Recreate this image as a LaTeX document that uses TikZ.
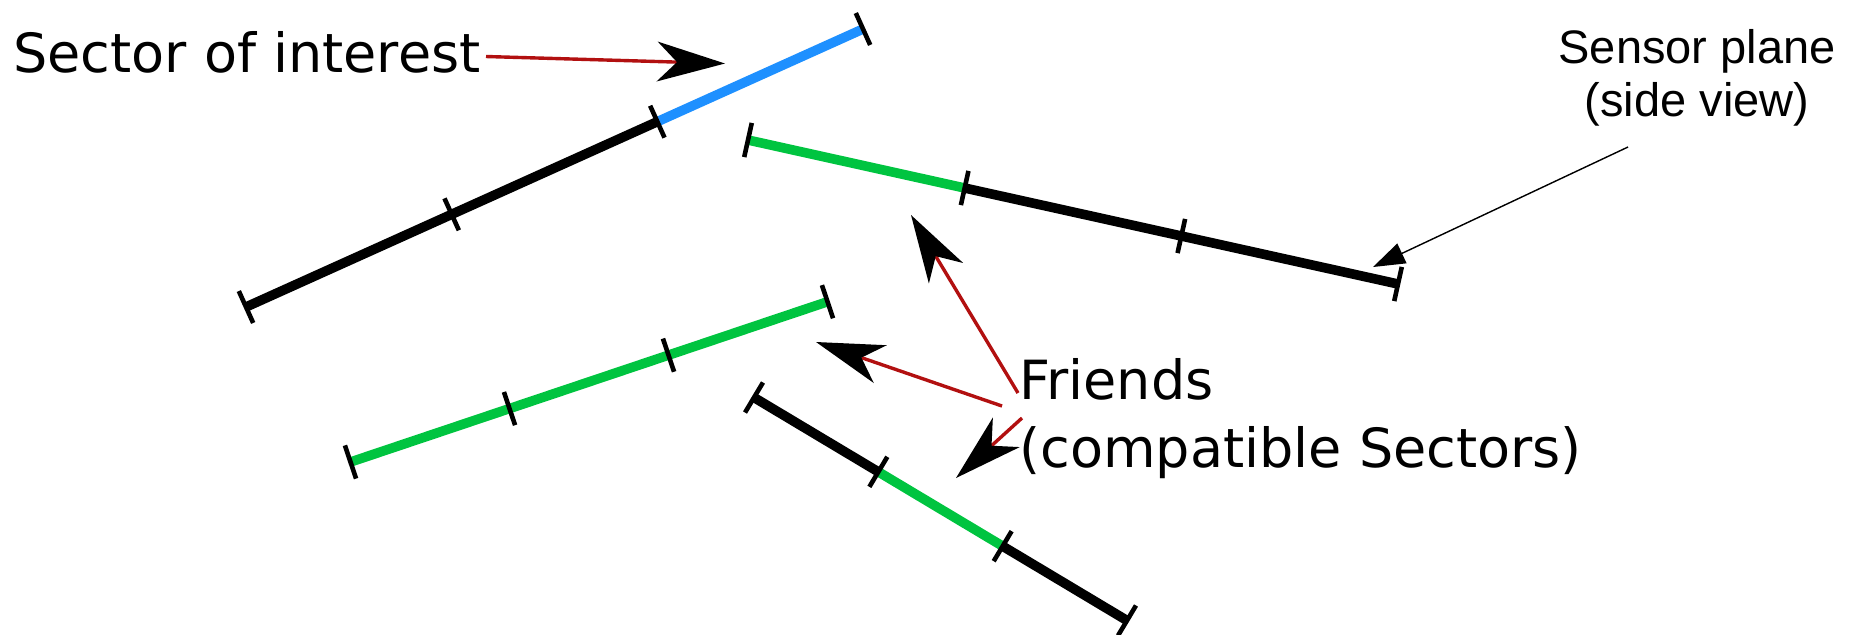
\documentclass[tikz,border=0pt]{standalone}
\usepackage{fontspec}
\setmainfont{DejaVu Sans}
\newfontfamily\sensorfont{Liberation Sans}
\usetikzlibrary{arrows.meta, calc, positioning}

\definecolor{soiblue}{RGB}{30,144,255}
\definecolor{friendgreen}{RGB}{0,196,64}
\definecolor{arrowred}{RGB}{178,16,16}

\tikzset{
  sector/.style={line width=4.8pt},
  tickmark/.style={line width=2.3pt, black},
  pointer/.style={line width=1.7pt, arrowred,
    -{Stealth[black, line width=0pt, length=34pt, width=20pt, inset=10pt]}},
  thinpointer/.style={line width=0.7pt, black,
    -{Triangle[line width=0pt, length=16pt, width=11pt]}},
  lbltext/.style={inner sep=0pt, font=\fontsize{27pt}{32pt}\selectfont},
  sensortext/.style={inner sep=0pt, font=\sensorfont\fontsize{23.5pt}{27pt}\selectfont}
}

% one sensor plane: ends #1, #2 and the colours of its three sectors
\newcommand{\sectorline}[5]{%
  \coordinate (#1-u) at ($(#1)!8.75pt!90:(#2)$);
  \draw[sector, #3] (#1) -- ($(#1)!1/3!(#2)$);
  \draw[sector, #4] ($(#1)!1/3!(#2)$) -- ($(#1)!2/3!(#2)$);
  \draw[sector, #5] ($(#1)!2/3!(#2)$) -- (#2);
  \foreach \t in {0,1/3,2/3,1}
    \draw[tickmark] ($(#1)!\t!(#2) + (#1-u) - (#1)$) -- ($(#1)!\t!(#2) - (#1-u) + (#1)$);
}

\begin{document}
\begin{tikzpicture}[x=0.5pt, y=-0.5pt]
    \useasboundingbox (0,0) rectangle (1851,634);

    % sensor planes
    \coordinate (s1a) at (246,307);   \coordinate (s1b) at (863,29);
    \coordinate (s2a) at (748,140);   \coordinate (s2b) at (1398,284);
    \coordinate (s3a) at (350.5,462); \coordinate (s3b) at (827.5,301.7);
    \coordinate (s4a) at (754,397.5); \coordinate (s4b) at (1127,620.5);

    \sectorline{s1a}{s1b}{black}{black}{soiblue}
    \sectorline{s2a}{s2b}{friendgreen}{black}{black}
    \sectorline{s3a}{s3b}{friendgreen}{friendgreen}{friendgreen}
    \sectorline{s4a}{s4b}{black}{friendgreen}{black}

    % labels
    \node[lbltext, anchor=base west] (soi) at (13,72) {Sector of interest};
    \node[lbltext, anchor=base west] (friends) at (1019,399) {Friends};
    \node[lbltext, anchor=base west] (compat) at ([yshift=-34pt]friends.base west) {(compatible Sectors)};
    \node[sensortext, anchor=base] (sensor) at (1697,63.3) {Sensor plane};
    \node[sensortext, anchor=base] (side) at ([yshift=-26.7pt]sensor.base) {(side view)};

    % arrows
    \coordinate (soi start) at (486,56.5);  \coordinate (soi tip) at (725,63.5);
    \coordinate (fr1 start) at (1018,393);  \coordinate (fr1 tip) at (911,215);
    \coordinate (fr2 start) at (1002,406);  \coordinate (fr2 tip) at (816,342);
    \coordinate (fr3 start) at (1022,418);  \coordinate (fr3 tip) at (956,478);
    \coordinate (sp start) at (1628,147);   \coordinate (sp tip) at (1373,267);

    \draw[pointer] (soi start) -- (soi tip);
    \draw[pointer] (fr1 start) -- (fr1 tip);
    \draw[pointer] (fr2 start) -- (fr2 tip);
    \draw[pointer] (fr3 start) -- (fr3 tip);
    \draw[thinpointer] (sp start) -- (sp tip);
\end{tikzpicture}
\end{document}
